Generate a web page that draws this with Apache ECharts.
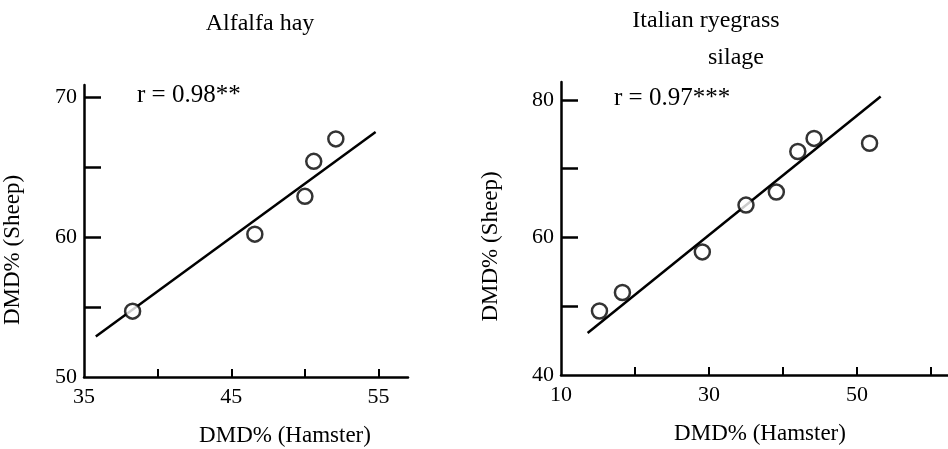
<!DOCTYPE html>
<html>
<head>
<meta charset="utf-8">
<script src="https://cdn.jsdelivr.net/npm/echarts@6/dist/echarts.min.js"></script>
<style>html,body{margin:0;padding:0;background:#fff;}#c{width:948px;height:449px;}</style>
</head>
<body>
<div id="c"></div>
<script>
// Alfalfa hay: DMD% hamster vs sheep
const alfalfaPoints = [[38.3, 54.7], [46.6, 60.2], [50.0, 62.9], [50.6, 65.4], [52.1, 67.0]];
const alfalfaLine = [[35.8, 52.9], [54.8, 67.5]];
// Italian ryegrass silage
const ryegrassPoints = [[15.2, 49.3], [18.3, 52.0], [29.1, 57.9], [35.0, 64.7], [39.1, 66.6], [42.0, 72.5], [44.2, 74.4], [51.7, 73.7]];
const ryegrassLine = [[13.6, 46.1], [53.2, 80.5]];
// tick labels / ticks
const alfXLabels = [35, 45, 55];
const alfXTicks = [40, 45, 50, 55];
const alfYLabels = [50, 60, 70];
const alfYTicks = [55, 60, 65, 70];
const ryeXLabels = [10, 30, 50];
const ryeXTicks = [20, 30, 40, 50, 60];
const ryeYLabels = [40, 60, 80];
const ryeYTicks = [50, 60, 70, 80];

const FONT = 'Liberation Serif';
const INK = '#000';

function xAxis(idx, min, max, labels, ticks, pad) {
  return {
    type: 'value', gridIndex: idx, min: min, max: max,
    name: 'DMD% (Hamster)', nameLocation: 'middle', nameGap: 47,
    nameTextStyle: {fontFamily: FONT, fontSize: 23, color: INK, padding: pad},
    axisLine: {show: true, onZero: false, lineStyle: {color: INK, width: 2.5}},
    axisTick: {show: true, inside: true, length: 8, customValues: ticks, lineStyle: {color: INK, width: 2}},
    axisLabel: {customValues: labels, fontFamily: FONT, fontSize: 22, color: INK, margin: 9},
    splitLine: {show: false}
  };
}
function yAxis(idx, min, max, labels, ticks, gap, pad) {
  return {
    type: 'value', gridIndex: idx, min: min, max: max,
    name: 'DMD% (Sheep)', nameLocation: 'middle', nameGap: gap, nameRotate: 90,
    nameTextStyle: {fontFamily: FONT, fontSize: 23, color: INK, padding: pad},
    axisLine: {show: true, onZero: false, lineStyle: {color: INK, width: 2.5}},
    axisTick: {show: true, inside: true, length: 17, customValues: ticks, lineStyle: {color: INK, width: 2.5}},
    axisLabel: {customValues: labels, fontFamily: FONT, fontSize: 22, color: INK, margin: 7},
    splitLine: {show: false}
  };
}
const ts = {fontFamily: FONT, fontSize: 24, fontWeight: 'normal', color: INK};
const rs = {fontFamily: FONT, fontSize: 25, fontWeight: 'normal', color: INK};

const chart = echarts.init(document.getElementById('c'), null, {renderer: 'canvas'});
chart.setOption({
  backgroundColor: '#fff',
  animation: false,
  title: [
    {text: 'Alfalfa hay', left: 260, top: 12, textAlign: 'center', textStyle: ts, padding: 0},
    {text: 'Italian ryegrass', left: 706, top: 9, textAlign: 'center', textStyle: ts, padding: 0},
    {text: 'silage', left: 736, top: 46, textAlign: 'center', textStyle: ts, padding: 0},
    {text: 'r = 0.98**', left: 137, top: 83, textStyle: rs, padding: 0},
    {text: 'r = 0.97***', left: 614, top: 86, textStyle: rs, padding: 0}
  ],
  grid: [
    {left: 84, top: 85, width: 324, height: 292, containLabel: false, outerBoundsMode: 'none'},
    {left: 561, top: 82, width: 387, height: 293, containLabel: false, outerBoundsMode: 'none'}
  ],
  xAxis: [
    xAxis(0, 35, 57, alfXLabels, alfXTicks, [0, 0, 0, 78]),
    xAxis(1, 10, 62.3, ryeXLabels, ryeXTicks, [0, 0, 0, 11])
  ],
  yAxis: [
    yAxis(0, 50, 70.85, alfYLabels, alfYTicks, 60, [0, 38, 0, 0]),
    yAxis(1, 40, 82.6, ryeYLabels, ryeYTicks, 59, [0, 36, 0, 0])
  ],
  series: [
    {type: 'line', xAxisIndex: 0, yAxisIndex: 0, data: alfalfaLine, symbol: 'none', lineStyle: {color: INK, width: 2.5}, z: 2},
    {type: 'scatter', xAxisIndex: 0, yAxisIndex: 0, data: alfalfaPoints, symbol: 'circle', symbolSize: 15,
     itemStyle: {color: '#fff', borderColor: INK, borderWidth: 2.5}, z: 3},
    {type: 'line', xAxisIndex: 1, yAxisIndex: 1, data: ryegrassLine, symbol: 'none', lineStyle: {color: INK, width: 2.5}, z: 2},
    {type: 'scatter', xAxisIndex: 1, yAxisIndex: 1, data: ryegrassPoints, symbol: 'circle', symbolSize: 15,
     itemStyle: {color: '#fff', borderColor: INK, borderWidth: 2.5}, z: 3}
  ]
});
</script>
</body>
</html>
